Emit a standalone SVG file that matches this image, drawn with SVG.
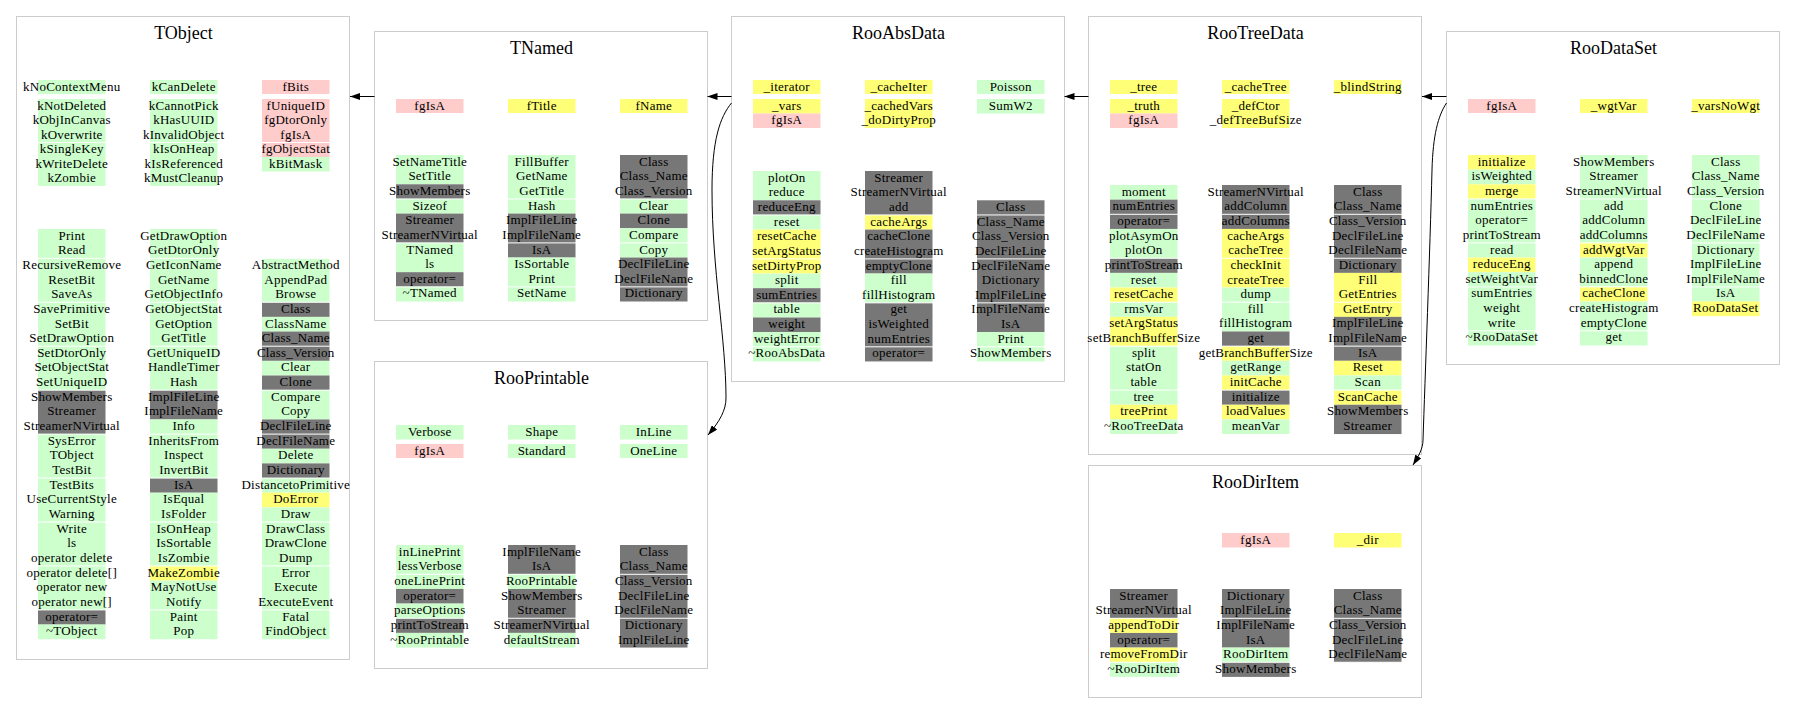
<svg xmlns="http://www.w3.org/2000/svg" width="1795" height="724" viewBox="0 0 1795 724">
<style>
.bg{fill:#fff}
.box{fill:#fff;stroke:#cccccc;stroke-width:1}
.t{font-family:"Liberation Serif","Times New Roman",serif;font-size:18px;text-anchor:middle;fill:#000}
.c{font-family:"Liberation Serif","Times New Roman",serif;font-size:13px;letter-spacing:0.25px;text-anchor:middle;fill:#000}
.g{fill:#ccffcc}.p{fill:#ffcccc}.y{fill:#ffff77}.d{fill:#777777}
.s{fill:#fff}
.e{fill:none;stroke:#000;stroke-width:1}
</style>
<defs>
<marker id="ah" viewBox="0 0 10 7" refX="10" refY="3.5" markerWidth="10" markerHeight="7" markerUnits="userSpaceOnUse" orient="auto"><path d="M0,0 L10,3.5 L0,7 z" fill="#000"/></marker>
</defs>
<rect class="bg" x="0" y="0" width="1795" height="724"/>

<g id="TObject" transform="translate(16.5,16.5)">
<rect class="box" x="0" y="0" width="333" height="643"/>
<text class="t" x="167" y="22">TObject</text>
<rect class="g" x="21.5" y="63.5" width="67.5" height="14"/>
<rect class="g" x="21.5" y="82.5" width="67.5" height="87"/>
<rect class="g" x="133.5" y="63.5" width="67.5" height="14"/>
<rect class="g" x="133.5" y="82.5" width="67.5" height="87"/>
<rect class="p" x="245.5" y="63.5" width="67.5" height="14"/>
<rect class="p" x="245.5" y="82.5" width="67.5" height="58"/>
<rect class="g" x="245.5" y="140.5" width="67.5" height="14.5"/>
<rect class="g" x="21.5" y="212.5" width="67.5" height="161.15"/>
<rect class="d" x="21.5" y="373.65" width="67.5" height="43.95"/>
<rect class="g" x="21.5" y="417.6" width="67.5" height="175.8"/>
<rect class="d" x="21.5" y="593.4" width="67.5" height="14.65"/>
<rect class="g" x="21.5" y="608.05" width="67.5" height="14.65"/>
<rect class="g" x="133.5" y="212.5" width="67.5" height="161.15"/>
<rect class="d" x="133.5" y="373.65" width="67.5" height="29.3"/>
<rect class="g" x="133.5" y="402.95" width="67.5" height="58.6"/>
<rect class="d" x="133.5" y="461.55" width="67.5" height="14.65"/>
<rect class="g" x="133.5" y="476.2" width="67.5" height="73.25"/>
<rect class="y" x="133.5" y="549.45" width="67.5" height="14.65"/>
<rect class="g" x="133.5" y="564.1" width="67.5" height="58.6"/>
<rect class="g" x="245.5" y="241.8" width="67.5" height="43.95"/>
<rect class="d" x="245.5" y="285.75" width="67.5" height="14.65"/>
<rect class="g" x="245.5" y="300.4" width="67.5" height="14.65"/>
<rect class="d" x="245.5" y="315.05" width="67.5" height="29.3"/>
<rect class="g" x="245.5" y="344.35" width="67.5" height="14.65"/>
<rect class="d" x="245.5" y="359" width="67.5" height="14.65"/>
<rect class="g" x="245.5" y="373.65" width="67.5" height="29.3"/>
<rect class="d" x="245.5" y="402.95" width="67.5" height="29.3"/>
<rect class="g" x="245.5" y="432.25" width="67.5" height="14.65"/>
<rect class="d" x="245.5" y="446.9" width="67.5" height="14.65"/>
<rect class="g" x="245.5" y="461.55" width="67.5" height="14.65"/>
<rect class="y" x="245.5" y="476.2" width="67.5" height="14.65"/>
<rect class="g" x="245.5" y="490.85" width="67.5" height="131.85"/>
<rect class="s" x="1" y="125.5" width="331" height="1"/>
<rect class="s" x="1" y="241.3" width="331" height="1"/>
<rect class="s" x="1" y="285.25" width="331" height="1"/>
<rect class="s" x="1" y="329.2" width="331" height="1"/>
<rect class="s" x="1" y="373.15" width="331" height="1"/>
<rect class="s" x="1" y="417.1" width="331" height="1"/>
<rect class="s" x="1" y="461.05" width="331" height="1"/>
<rect class="s" x="1" y="505" width="331" height="1"/>
<rect class="s" x="1" y="548.95" width="331" height="1"/>
<rect class="s" x="1" y="592.9" width="331" height="1"/>
<text class="c"><tspan x="55.25" y="74">kNoContextMenu</tspan><tspan x="55.25" y="93">kNotDeleted</tspan><tspan x="55.25" y="107.5">kObjInCanvas</tspan><tspan x="55.25" y="122">kOverwrite</tspan><tspan x="55.25" y="136.5">kSingleKey</tspan><tspan x="55.25" y="151">kWriteDelete</tspan><tspan x="55.25" y="165.5">kZombie</tspan></text>
<text class="c"><tspan x="167.25" y="74">kCanDelete</tspan><tspan x="167.25" y="93">kCannotPick</tspan><tspan x="167.25" y="107.5">kHasUUID</tspan><tspan x="167.25" y="122">kInvalidObject</tspan><tspan x="167.25" y="136.5">kIsOnHeap</tspan><tspan x="167.25" y="151">kIsReferenced</tspan><tspan x="167.25" y="165.5">kMustCleanup</tspan></text>
<text class="c"><tspan x="279.25" y="74">fBits</tspan><tspan x="279.25" y="93">fUniqueID</tspan><tspan x="279.25" y="107.5">fgDtorOnly</tspan><tspan x="279.25" y="122">fgIsA</tspan><tspan x="279.25" y="136.5">fgObjectStat</tspan><tspan x="279.25" y="151">kBitMask</tspan></text>
<text class="c"><tspan x="55.25" y="223.1">Print</tspan><tspan x="55.25" y="237.75">Read</tspan><tspan x="55.25" y="252.4">RecursiveRemove</tspan><tspan x="55.25" y="267.05">ResetBit</tspan><tspan x="55.25" y="281.7">SaveAs</tspan><tspan x="55.25" y="296.35">SavePrimitive</tspan><tspan x="55.25" y="311">SetBit</tspan><tspan x="55.25" y="325.65">SetDrawOption</tspan><tspan x="55.25" y="340.3">SetDtorOnly</tspan><tspan x="55.25" y="354.95">SetObjectStat</tspan><tspan x="55.25" y="369.6">SetUniqueID</tspan><tspan x="55.25" y="384.25">ShowMembers</tspan><tspan x="55.25" y="398.9">Streamer</tspan><tspan x="55.25" y="413.55">StreamerNVirtual</tspan><tspan x="55.25" y="428.2">SysError</tspan><tspan x="55.25" y="442.85">TObject</tspan><tspan x="55.25" y="457.5">TestBit</tspan><tspan x="55.25" y="472.15">TestBits</tspan><tspan x="55.25" y="486.8">UseCurrentStyle</tspan><tspan x="55.25" y="501.45">Warning</tspan><tspan x="55.25" y="516.1">Write</tspan><tspan x="55.25" y="530.75">ls</tspan><tspan x="55.25" y="545.4">operator delete</tspan><tspan x="55.25" y="560.05">operator delete[]</tspan><tspan x="55.25" y="574.7">operator new</tspan><tspan x="55.25" y="589.35">operator new[]</tspan><tspan x="55.25" y="604">operator=</tspan><tspan x="55.25" y="618.65">~TObject</tspan></text>
<text class="c"><tspan x="167.25" y="223.1">GetDrawOption</tspan><tspan x="167.25" y="237.75">GetDtorOnly</tspan><tspan x="167.25" y="252.4">GetIconName</tspan><tspan x="167.25" y="267.05">GetName</tspan><tspan x="167.25" y="281.7">GetObjectInfo</tspan><tspan x="167.25" y="296.35">GetObjectStat</tspan><tspan x="167.25" y="311">GetOption</tspan><tspan x="167.25" y="325.65">GetTitle</tspan><tspan x="167.25" y="340.3">GetUniqueID</tspan><tspan x="167.25" y="354.95">HandleTimer</tspan><tspan x="167.25" y="369.6">Hash</tspan><tspan x="167.25" y="384.25">ImplFileLine</tspan><tspan x="167.25" y="398.9">ImplFileName</tspan><tspan x="167.25" y="413.55">Info</tspan><tspan x="167.25" y="428.2">InheritsFrom</tspan><tspan x="167.25" y="442.85">Inspect</tspan><tspan x="167.25" y="457.5">InvertBit</tspan><tspan x="167.25" y="472.15">IsA</tspan><tspan x="167.25" y="486.8">IsEqual</tspan><tspan x="167.25" y="501.45">IsFolder</tspan><tspan x="167.25" y="516.1">IsOnHeap</tspan><tspan x="167.25" y="530.75">IsSortable</tspan><tspan x="167.25" y="545.4">IsZombie</tspan><tspan x="167.25" y="560.05">MakeZombie</tspan><tspan x="167.25" y="574.7">MayNotUse</tspan><tspan x="167.25" y="589.35">Notify</tspan><tspan x="167.25" y="604">Paint</tspan><tspan x="167.25" y="618.65">Pop</tspan></text>
<text class="c"><tspan x="279.25" y="252.4">AbstractMethod</tspan><tspan x="279.25" y="267.05">AppendPad</tspan><tspan x="279.25" y="281.7">Browse</tspan><tspan x="279.25" y="296.35">Class</tspan><tspan x="279.25" y="311">ClassName</tspan><tspan x="279.25" y="325.65">Class_Name</tspan><tspan x="279.25" y="340.3">Class_Version</tspan><tspan x="279.25" y="354.95">Clear</tspan><tspan x="279.25" y="369.6">Clone</tspan><tspan x="279.25" y="384.25">Compare</tspan><tspan x="279.25" y="398.9">Copy</tspan><tspan x="279.25" y="413.55">DeclFileLine</tspan><tspan x="279.25" y="428.2">DeclFileName</tspan><tspan x="279.25" y="442.85">Delete</tspan><tspan x="279.25" y="457.5">Dictionary</tspan><tspan x="279.25" y="472.15">DistancetoPrimitive</tspan><tspan x="279.25" y="486.8">DoError</tspan><tspan x="279.25" y="501.45">Draw</tspan><tspan x="279.25" y="516.1">DrawClass</tspan><tspan x="279.25" y="530.75">DrawClone</tspan><tspan x="279.25" y="545.4">Dump</tspan><tspan x="279.25" y="560.05">Error</tspan><tspan x="279.25" y="574.7">Execute</tspan><tspan x="279.25" y="589.35">ExecuteEvent</tspan><tspan x="279.25" y="604">Fatal</tspan><tspan x="279.25" y="618.65">FindObject</tspan></text>
</g>

<g id="TNamed" transform="translate(374.5,31.5)">
<rect class="box" x="0" y="0" width="333" height="289"/>
<text class="t" x="167" y="22">TNamed</text>
<rect class="p" x="21.5" y="67.5" width="67.5" height="14"/>
<rect class="y" x="133.5" y="67.5" width="67.5" height="14"/>
<rect class="y" x="245.5" y="67.5" width="67.5" height="14"/>
<rect class="g" x="21.5" y="123.5" width="67.5" height="29.3"/>
<rect class="d" x="21.5" y="152.8" width="67.5" height="14.65"/>
<rect class="g" x="21.5" y="167.45" width="67.5" height="14.65"/>
<rect class="d" x="21.5" y="182.1" width="67.5" height="29.3"/>
<rect class="g" x="21.5" y="211.4" width="67.5" height="29.3"/>
<rect class="d" x="21.5" y="240.7" width="67.5" height="14.65"/>
<rect class="g" x="21.5" y="255.35" width="67.5" height="14.65"/>
<rect class="g" x="133.5" y="123.5" width="67.5" height="58.6"/>
<rect class="d" x="133.5" y="182.1" width="67.5" height="43.95"/>
<rect class="g" x="133.5" y="226.05" width="67.5" height="43.95"/>
<rect class="d" x="245.5" y="123.5" width="67.5" height="43.95"/>
<rect class="g" x="245.5" y="167.45" width="67.5" height="14.65"/>
<rect class="d" x="245.5" y="182.1" width="67.5" height="14.65"/>
<rect class="g" x="245.5" y="196.75" width="67.5" height="29.3"/>
<rect class="d" x="245.5" y="226.05" width="67.5" height="43.95"/>
<rect class="s" x="1" y="166.95" width="331" height="1"/>
<rect class="s" x="1" y="210.9" width="331" height="1"/>
<rect class="s" x="1" y="254.85" width="331" height="1"/>
<text class="c"><tspan x="55.25" y="78">fgIsA</tspan><tspan x="167.25" y="78">fTitle</tspan><tspan x="279.25" y="78">fName</tspan></text>
<text class="c"><tspan x="55.25" y="134.1">SetNameTitle</tspan><tspan x="55.25" y="148.75">SetTitle</tspan><tspan x="55.25" y="163.4">ShowMembers</tspan><tspan x="55.25" y="178.05">Sizeof</tspan><tspan x="55.25" y="192.7">Streamer</tspan><tspan x="55.25" y="207.35">StreamerNVirtual</tspan><tspan x="55.25" y="222">TNamed</tspan><tspan x="55.25" y="236.65">ls</tspan><tspan x="55.25" y="251.3">operator=</tspan><tspan x="55.25" y="265.95">~TNamed</tspan></text>
<text class="c"><tspan x="167.25" y="134.1">FillBuffer</tspan><tspan x="167.25" y="148.75">GetName</tspan><tspan x="167.25" y="163.4">GetTitle</tspan><tspan x="167.25" y="178.05">Hash</tspan><tspan x="167.25" y="192.7">ImplFileLine</tspan><tspan x="167.25" y="207.35">ImplFileName</tspan><tspan x="167.25" y="222">IsA</tspan><tspan x="167.25" y="236.65">IsSortable</tspan><tspan x="167.25" y="251.3">Print</tspan><tspan x="167.25" y="265.95">SetName</tspan></text>
<text class="c"><tspan x="279.25" y="134.1">Class</tspan><tspan x="279.25" y="148.75">Class_Name</tspan><tspan x="279.25" y="163.4">Class_Version</tspan><tspan x="279.25" y="178.05">Clear</tspan><tspan x="279.25" y="192.7">Clone</tspan><tspan x="279.25" y="207.35">Compare</tspan><tspan x="279.25" y="222">Copy</tspan><tspan x="279.25" y="236.65">DeclFileLine</tspan><tspan x="279.25" y="251.3">DeclFileName</tspan><tspan x="279.25" y="265.95">Dictionary</tspan></text>
</g>

<g id="RooPrintable" transform="translate(374.5,361.5)">
<rect class="box" x="0" y="0" width="333" height="307"/>
<text class="t" x="167" y="22">RooPrintable</text>
<rect class="g" x="21.5" y="63.5" width="67.5" height="14.5"/>
<rect class="g" x="133.5" y="63.5" width="67.5" height="14.5"/>
<rect class="g" x="245.5" y="63.5" width="67.5" height="14.5"/>
<rect class="p" x="21.5" y="82.5" width="67.5" height="14"/>
<rect class="g" x="133.5" y="82.5" width="67.5" height="14"/>
<rect class="g" x="245.5" y="82.5" width="67.5" height="14"/>
<rect class="g" x="21.5" y="183.5" width="67.5" height="43.95"/>
<rect class="d" x="21.5" y="227.45" width="67.5" height="14.65"/>
<rect class="g" x="21.5" y="242.1" width="67.5" height="14.65"/>
<rect class="d" x="21.5" y="256.75" width="67.5" height="14.65"/>
<rect class="g" x="21.5" y="271.4" width="67.5" height="14.65"/>
<rect class="d" x="133.5" y="183.5" width="67.5" height="29.3"/>
<rect class="g" x="133.5" y="212.8" width="67.5" height="14.65"/>
<rect class="d" x="133.5" y="227.45" width="67.5" height="43.95"/>
<rect class="g" x="133.5" y="271.4" width="67.5" height="14.65"/>
<rect class="d" x="245.5" y="183.5" width="67.5" height="102.55"/>
<rect class="s" x="1" y="212.3" width="331" height="1"/>
<rect class="s" x="1" y="256.25" width="331" height="1"/>
<text class="c"><tspan x="55.25" y="74">Verbose</tspan><tspan x="167.25" y="74">Shape</tspan><tspan x="279.25" y="74">InLine</tspan><tspan x="55.25" y="93">fgIsA</tspan><tspan x="167.25" y="93">Standard</tspan><tspan x="279.25" y="93">OneLine</tspan></text>
<text class="c"><tspan x="55.25" y="194.1">inLinePrint</tspan><tspan x="55.25" y="208.75">lessVerbose</tspan><tspan x="55.25" y="223.4">oneLinePrint</tspan><tspan x="55.25" y="238.05">operator=</tspan><tspan x="55.25" y="252.7">parseOptions</tspan><tspan x="55.25" y="267.35">printToStream</tspan><tspan x="55.25" y="282">~RooPrintable</tspan></text>
<text class="c"><tspan x="167.25" y="194.1">ImplFileName</tspan><tspan x="167.25" y="208.75">IsA</tspan><tspan x="167.25" y="223.4">RooPrintable</tspan><tspan x="167.25" y="238.05">ShowMembers</tspan><tspan x="167.25" y="252.7">Streamer</tspan><tspan x="167.25" y="267.35">StreamerNVirtual</tspan><tspan x="167.25" y="282">defaultStream</tspan></text>
<text class="c"><tspan x="279.25" y="194.1">Class</tspan><tspan x="279.25" y="208.75">Class_Name</tspan><tspan x="279.25" y="223.4">Class_Version</tspan><tspan x="279.25" y="238.05">DeclFileLine</tspan><tspan x="279.25" y="252.7">DeclFileName</tspan><tspan x="279.25" y="267.35">Dictionary</tspan><tspan x="279.25" y="282">ImplFileLine</tspan></text>
</g>

<g id="RooAbsData" transform="translate(731.5,16.5)">
<rect class="box" x="0" y="0" width="333" height="365"/>
<text class="t" x="167" y="22">RooAbsData</text>
<rect class="y" x="21.5" y="63.5" width="67.5" height="14"/>
<rect class="y" x="133.5" y="63.5" width="67.5" height="14"/>
<rect class="g" x="245.5" y="63.5" width="67.5" height="14"/>
<rect class="y" x="21.5" y="82.5" width="67.5" height="14.5"/>
<rect class="p" x="21.5" y="97" width="67.5" height="14.5"/>
<rect class="y" x="133.5" y="82.5" width="67.5" height="29"/>
<rect class="g" x="245.5" y="82.5" width="67.5" height="14.5"/>
<rect class="g" x="21.5" y="154.5" width="67.5" height="29.3"/>
<rect class="d" x="21.5" y="183.8" width="67.5" height="14.65"/>
<rect class="g" x="21.5" y="198.45" width="67.5" height="14.65"/>
<rect class="y" x="21.5" y="213.1" width="67.5" height="43.95"/>
<rect class="g" x="21.5" y="257.05" width="67.5" height="14.65"/>
<rect class="d" x="21.5" y="271.7" width="67.5" height="14.65"/>
<rect class="g" x="21.5" y="286.35" width="67.5" height="14.65"/>
<rect class="d" x="21.5" y="301" width="67.5" height="14.65"/>
<rect class="g" x="21.5" y="315.65" width="67.5" height="29.3"/>
<rect class="d" x="133.5" y="154.5" width="67.5" height="43.95"/>
<rect class="y" x="133.5" y="198.45" width="67.5" height="14.65"/>
<rect class="d" x="133.5" y="213.1" width="67.5" height="43.95"/>
<rect class="g" x="133.5" y="257.05" width="67.5" height="29.3"/>
<rect class="d" x="133.5" y="286.35" width="67.5" height="58.6"/>
<rect class="d" x="245.5" y="183.8" width="67.5" height="131.85"/>
<rect class="g" x="245.5" y="315.65" width="67.5" height="29.3"/>
<rect class="s" x="1" y="197.95" width="331" height="1"/>
<rect class="s" x="1" y="241.9" width="331" height="1"/>
<rect class="s" x="1" y="285.85" width="331" height="1"/>
<rect class="s" x="1" y="329.8" width="331" height="1"/>
<text class="c"><tspan x="55.25" y="74">_iterator</tspan><tspan x="167.25" y="74">_cacheIter</tspan><tspan x="279.25" y="74">Poisson</tspan><tspan x="55.25" y="93">_vars</tspan><tspan x="167.25" y="93">_cachedVars</tspan><tspan x="279.25" y="93">SumW2</tspan><tspan x="55.25" y="107.5">fgIsA</tspan><tspan x="167.25" y="107.5">_doDirtyProp</tspan></text>
<text class="c"><tspan x="55.25" y="165.1">plotOn</tspan><tspan x="55.25" y="179.75">reduce</tspan><tspan x="55.25" y="194.4">reduceEng</tspan><tspan x="55.25" y="209.05">reset</tspan><tspan x="55.25" y="223.7">resetCache</tspan><tspan x="55.25" y="238.35">setArgStatus</tspan><tspan x="55.25" y="253">setDirtyProp</tspan><tspan x="55.25" y="267.65">split</tspan><tspan x="55.25" y="282.3">sumEntries</tspan><tspan x="55.25" y="296.95">table</tspan><tspan x="55.25" y="311.6">weight</tspan><tspan x="55.25" y="326.25">weightError</tspan><tspan x="55.25" y="340.9">~RooAbsData</tspan></text>
<text class="c"><tspan x="167.25" y="165.1">Streamer</tspan><tspan x="167.25" y="179.75">StreamerNVirtual</tspan><tspan x="167.25" y="194.4">add</tspan><tspan x="167.25" y="209.05">cacheArgs</tspan><tspan x="167.25" y="223.7">cacheClone</tspan><tspan x="167.25" y="238.35">createHistogram</tspan><tspan x="167.25" y="253">emptyClone</tspan><tspan x="167.25" y="267.65">fill</tspan><tspan x="167.25" y="282.3">fillHistogram</tspan><tspan x="167.25" y="296.95">get</tspan><tspan x="167.25" y="311.6">isWeighted</tspan><tspan x="167.25" y="326.25">numEntries</tspan><tspan x="167.25" y="340.9">operator=</tspan></text>
<text class="c"><tspan x="279.25" y="194.4">Class</tspan><tspan x="279.25" y="209.05">Class_Name</tspan><tspan x="279.25" y="223.7">Class_Version</tspan><tspan x="279.25" y="238.35">DeclFileLine</tspan><tspan x="279.25" y="253">DeclFileName</tspan><tspan x="279.25" y="267.65">Dictionary</tspan><tspan x="279.25" y="282.3">ImplFileLine</tspan><tspan x="279.25" y="296.95">ImplFileName</tspan><tspan x="279.25" y="311.6">IsA</tspan><tspan x="279.25" y="326.25">Print</tspan><tspan x="279.25" y="340.9">ShowMembers</tspan></text>
</g>

<g id="RooTreeData" transform="translate(1088.5,16.5)">
<rect class="box" x="0" y="0" width="333" height="438"/>
<text class="t" x="167" y="22">RooTreeData</text>
<rect class="y" x="21.5" y="63.5" width="67.5" height="14"/>
<rect class="y" x="133.5" y="63.5" width="67.5" height="14"/>
<rect class="y" x="245.5" y="63.5" width="67.5" height="14"/>
<rect class="y" x="21.5" y="82.5" width="67.5" height="14.5"/>
<rect class="p" x="21.5" y="97" width="67.5" height="14.5"/>
<rect class="y" x="133.5" y="82.5" width="67.5" height="29"/>
<rect class="g" x="21.5" y="168.5" width="67.5" height="14.65"/>
<rect class="d" x="21.5" y="183.15" width="67.5" height="29.3"/>
<rect class="g" x="21.5" y="212.45" width="67.5" height="29.3"/>
<rect class="d" x="21.5" y="241.75" width="67.5" height="14.65"/>
<rect class="g" x="21.5" y="256.4" width="67.5" height="14.65"/>
<rect class="y" x="21.5" y="271.05" width="67.5" height="14.65"/>
<rect class="g" x="21.5" y="285.7" width="67.5" height="14.65"/>
<rect class="y" x="21.5" y="300.35" width="67.5" height="29.3"/>
<rect class="g" x="21.5" y="329.65" width="67.5" height="58.6"/>
<rect class="y" x="21.5" y="388.25" width="67.5" height="14.65"/>
<rect class="g" x="21.5" y="402.9" width="67.5" height="14.65"/>
<rect class="d" x="133.5" y="168.5" width="67.5" height="43.95"/>
<rect class="y" x="133.5" y="212.45" width="67.5" height="58.6"/>
<rect class="g" x="133.5" y="271.05" width="67.5" height="43.95"/>
<rect class="d" x="133.5" y="315" width="67.5" height="14.65"/>
<rect class="y" x="133.5" y="329.65" width="67.5" height="14.65"/>
<rect class="g" x="133.5" y="344.3" width="67.5" height="14.65"/>
<rect class="y" x="133.5" y="358.95" width="67.5" height="14.65"/>
<rect class="d" x="133.5" y="373.6" width="67.5" height="14.65"/>
<rect class="y" x="133.5" y="388.25" width="67.5" height="14.65"/>
<rect class="g" x="133.5" y="402.9" width="67.5" height="14.65"/>
<rect class="d" x="245.5" y="168.5" width="67.5" height="87.9"/>
<rect class="y" x="245.5" y="256.4" width="67.5" height="43.95"/>
<rect class="d" x="245.5" y="300.35" width="67.5" height="43.95"/>
<rect class="y" x="245.5" y="344.3" width="67.5" height="14.65"/>
<rect class="g" x="245.5" y="358.95" width="67.5" height="14.65"/>
<rect class="y" x="245.5" y="373.6" width="67.5" height="14.65"/>
<rect class="d" x="245.5" y="388.25" width="67.5" height="29.3"/>
<rect class="s" x="1" y="197.3" width="331" height="1"/>
<rect class="s" x="1" y="241.25" width="331" height="1"/>
<rect class="s" x="1" y="285.2" width="331" height="1"/>
<rect class="s" x="1" y="329.15" width="331" height="1"/>
<rect class="s" x="1" y="373.1" width="331" height="1"/>
<text class="c"><tspan x="55.25" y="74">_tree</tspan><tspan x="167.25" y="74">_cacheTree</tspan><tspan x="279.25" y="74">_blindString</tspan><tspan x="55.25" y="93">_truth</tspan><tspan x="167.25" y="93">_defCtor</tspan><tspan x="55.25" y="107.5">fgIsA</tspan><tspan x="167.25" y="107.5">_defTreeBufSize</tspan></text>
<text class="c"><tspan x="55.25" y="179.1">moment</tspan><tspan x="55.25" y="193.75">numEntries</tspan><tspan x="55.25" y="208.4">operator=</tspan><tspan x="55.25" y="223.05">plotAsymOn</tspan><tspan x="55.25" y="237.7">plotOn</tspan><tspan x="55.25" y="252.35">printToStream</tspan><tspan x="55.25" y="267">reset</tspan><tspan x="55.25" y="281.65">resetCache</tspan><tspan x="55.25" y="296.3">rmsVar</tspan><tspan x="55.25" y="310.95">setArgStatus</tspan><tspan x="55.25" y="325.6">setBranchBufferSize</tspan><tspan x="55.25" y="340.25">split</tspan><tspan x="55.25" y="354.9">statOn</tspan><tspan x="55.25" y="369.55">table</tspan><tspan x="55.25" y="384.2">tree</tspan><tspan x="55.25" y="398.85">treePrint</tspan><tspan x="55.25" y="413.5">~RooTreeData</tspan></text>
<text class="c"><tspan x="167.25" y="179.1">StreamerNVirtual</tspan><tspan x="167.25" y="193.75">addColumn</tspan><tspan x="167.25" y="208.4">addColumns</tspan><tspan x="167.25" y="223.05">cacheArgs</tspan><tspan x="167.25" y="237.7">cacheTree</tspan><tspan x="167.25" y="252.35">checkInit</tspan><tspan x="167.25" y="267">createTree</tspan><tspan x="167.25" y="281.65">dump</tspan><tspan x="167.25" y="296.3">fill</tspan><tspan x="167.25" y="310.95">fillHistogram</tspan><tspan x="167.25" y="325.6">get</tspan><tspan x="167.25" y="340.25">getBranchBufferSize</tspan><tspan x="167.25" y="354.9">getRange</tspan><tspan x="167.25" y="369.55">initCache</tspan><tspan x="167.25" y="384.2">initialize</tspan><tspan x="167.25" y="398.85">loadValues</tspan><tspan x="167.25" y="413.5">meanVar</tspan></text>
<text class="c"><tspan x="279.25" y="179.1">Class</tspan><tspan x="279.25" y="193.75">Class_Name</tspan><tspan x="279.25" y="208.4">Class_Version</tspan><tspan x="279.25" y="223.05">DeclFileLine</tspan><tspan x="279.25" y="237.7">DeclFileName</tspan><tspan x="279.25" y="252.35">Dictionary</tspan><tspan x="279.25" y="267">Fill</tspan><tspan x="279.25" y="281.65">GetEntries</tspan><tspan x="279.25" y="296.3">GetEntry</tspan><tspan x="279.25" y="310.95">ImplFileLine</tspan><tspan x="279.25" y="325.6">ImplFileName</tspan><tspan x="279.25" y="340.25">IsA</tspan><tspan x="279.25" y="354.9">Reset</tspan><tspan x="279.25" y="369.55">Scan</tspan><tspan x="279.25" y="384.2">ScanCache</tspan><tspan x="279.25" y="398.85">ShowMembers</tspan><tspan x="279.25" y="413.5">Streamer</tspan></text>
</g>

<g id="RooDataSet" transform="translate(1446.5,31.5)">
<rect class="box" x="0" y="0" width="333" height="333"/>
<text class="t" x="167" y="22">RooDataSet</text>
<rect class="p" x="21.5" y="67.5" width="67.5" height="14"/>
<rect class="y" x="133.5" y="67.5" width="67.5" height="14"/>
<rect class="y" x="245.5" y="67.5" width="67.5" height="14"/>
<rect class="y" x="21.5" y="123.5" width="67.5" height="14.65"/>
<rect class="g" x="21.5" y="138.15" width="67.5" height="14.65"/>
<rect class="y" x="21.5" y="152.8" width="67.5" height="14.65"/>
<rect class="g" x="21.5" y="167.45" width="67.5" height="58.6"/>
<rect class="y" x="21.5" y="226.05" width="67.5" height="14.65"/>
<rect class="g" x="21.5" y="240.7" width="67.5" height="73.25"/>
<rect class="g" x="133.5" y="123.5" width="67.5" height="87.9"/>
<rect class="y" x="133.5" y="211.4" width="67.5" height="14.65"/>
<rect class="g" x="133.5" y="226.05" width="67.5" height="29.3"/>
<rect class="y" x="133.5" y="255.35" width="67.5" height="14.65"/>
<rect class="g" x="133.5" y="270" width="67.5" height="43.95"/>
<rect class="g" x="245.5" y="123.5" width="67.5" height="146.5"/>
<rect class="y" x="245.5" y="270" width="67.5" height="14.65"/>
<rect class="s" x="1" y="166.95" width="331" height="1"/>
<rect class="s" x="1" y="210.9" width="331" height="1"/>
<rect class="s" x="1" y="254.85" width="331" height="1"/>
<rect class="s" x="1" y="298.8" width="331" height="1"/>
<text class="c"><tspan x="55.25" y="78">fgIsA</tspan><tspan x="167.25" y="78">_wgtVar</tspan><tspan x="279.25" y="78">_varsNoWgt</tspan></text>
<text class="c"><tspan x="55.25" y="134.1">initialize</tspan><tspan x="55.25" y="148.75">isWeighted</tspan><tspan x="55.25" y="163.4">merge</tspan><tspan x="55.25" y="178.05">numEntries</tspan><tspan x="55.25" y="192.7">operator=</tspan><tspan x="55.25" y="207.35">printToStream</tspan><tspan x="55.25" y="222">read</tspan><tspan x="55.25" y="236.65">reduceEng</tspan><tspan x="55.25" y="251.3">setWeightVar</tspan><tspan x="55.25" y="265.95">sumEntries</tspan><tspan x="55.25" y="280.6">weight</tspan><tspan x="55.25" y="295.25">write</tspan><tspan x="55.25" y="309.9">~RooDataSet</tspan></text>
<text class="c"><tspan x="167.25" y="134.1">ShowMembers</tspan><tspan x="167.25" y="148.75">Streamer</tspan><tspan x="167.25" y="163.4">StreamerNVirtual</tspan><tspan x="167.25" y="178.05">add</tspan><tspan x="167.25" y="192.7">addColumn</tspan><tspan x="167.25" y="207.35">addColumns</tspan><tspan x="167.25" y="222">addWgtVar</tspan><tspan x="167.25" y="236.65">append</tspan><tspan x="167.25" y="251.3">binnedClone</tspan><tspan x="167.25" y="265.95">cacheClone</tspan><tspan x="167.25" y="280.6">createHistogram</tspan><tspan x="167.25" y="295.25">emptyClone</tspan><tspan x="167.25" y="309.9">get</tspan></text>
<text class="c"><tspan x="279.25" y="134.1">Class</tspan><tspan x="279.25" y="148.75">Class_Name</tspan><tspan x="279.25" y="163.4">Class_Version</tspan><tspan x="279.25" y="178.05">Clone</tspan><tspan x="279.25" y="192.7">DeclFileLine</tspan><tspan x="279.25" y="207.35">DeclFileName</tspan><tspan x="279.25" y="222">Dictionary</tspan><tspan x="279.25" y="236.65">ImplFileLine</tspan><tspan x="279.25" y="251.3">ImplFileName</tspan><tspan x="279.25" y="265.95">IsA</tspan><tspan x="279.25" y="280.6">RooDataSet</tspan></text>
</g>

<g id="RooDirItem" transform="translate(1088.5,465.5)">
<rect class="box" x="0" y="0" width="333" height="232"/>
<text class="t" x="167" y="22">RooDirItem</text>
<rect class="p" x="133.5" y="67.5" width="67.5" height="14.5"/>
<rect class="y" x="245.5" y="67.5" width="67.5" height="14.5"/>
<rect class="d" x="21.5" y="123.5" width="67.5" height="29.3"/>
<rect class="y" x="21.5" y="152.8" width="67.5" height="14.65"/>
<rect class="d" x="21.5" y="167.45" width="67.5" height="14.65"/>
<rect class="y" x="21.5" y="182.1" width="67.5" height="14.65"/>
<rect class="g" x="21.5" y="196.75" width="67.5" height="14.65"/>
<rect class="d" x="133.5" y="123.5" width="67.5" height="58.6"/>
<rect class="g" x="133.5" y="182.1" width="67.5" height="14.65"/>
<rect class="d" x="133.5" y="196.75" width="67.5" height="14.65"/>
<rect class="d" x="245.5" y="123.5" width="67.5" height="73.25"/>
<rect class="s" x="1" y="152.3" width="331" height="1"/>
<rect class="s" x="1" y="196.25" width="331" height="1"/>
<text class="c"><tspan x="167.25" y="78">fgIsA</tspan><tspan x="279.25" y="78">_dir</tspan></text>
<text class="c"><tspan x="55.25" y="134.1">Streamer</tspan><tspan x="55.25" y="148.75">StreamerNVirtual</tspan><tspan x="55.25" y="163.4">appendToDir</tspan><tspan x="55.25" y="178.05">operator=</tspan><tspan x="55.25" y="192.7">removeFromDir</tspan><tspan x="55.25" y="207.35">~RooDirItem</tspan></text>
<text class="c"><tspan x="167.25" y="134.1">Dictionary</tspan><tspan x="167.25" y="148.75">ImplFileLine</tspan><tspan x="167.25" y="163.4">ImplFileName</tspan><tspan x="167.25" y="178.05">IsA</tspan><tspan x="167.25" y="192.7">RooDirItem</tspan><tspan x="167.25" y="207.35">ShowMembers</tspan></text>
<text class="c"><tspan x="279.25" y="134.1">Class</tspan><tspan x="279.25" y="148.75">Class_Name</tspan><tspan x="279.25" y="163.4">Class_Version</tspan><tspan x="279.25" y="178.05">DeclFileLine</tspan><tspan x="279.25" y="192.7">DeclFileName</tspan></text>
</g>

<g id="connectors">
<path class="e" d="M374.5,96.5 L350,96.5" marker-end="url(#ah)"/>
<path class="e" d="M731.5,96.5 L707.5,96.5" marker-end="url(#ah)"/>
<path class="e" d="M1088.5,96.5 L1064.5,96.5" marker-end="url(#ah)"/>
<path class="e" d="M1446.5,96.5 L1422,96.5" marker-end="url(#ah)"/>
<path class="e" d="M731.5,103 C720,117 712,140 712,190 C712,270 726,340 726,398 C726,410 720,421 708,435" marker-end="url(#ah)"/>
<path class="e" d="M1446.5,103 C1438,116 1433,135 1432,170 C1430,250 1425,380 1423,440 C1423,449 1418,457 1413,465" marker-end="url(#ah)"/>
</g>
</svg>
